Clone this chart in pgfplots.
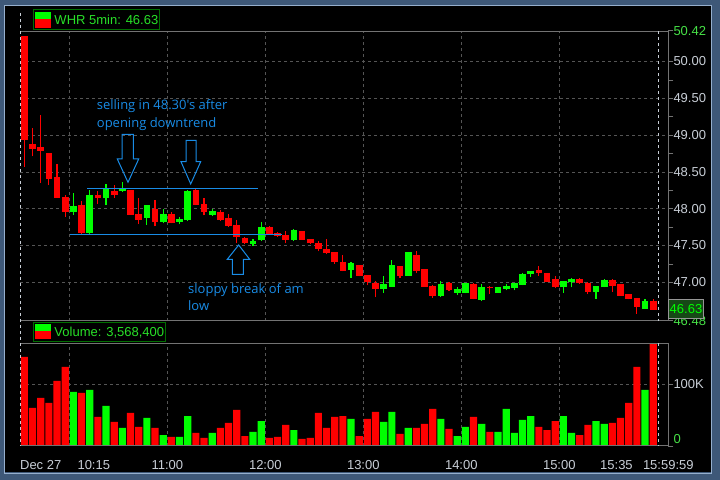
\documentclass[border=0pt]{standalone}
\usepackage{pgfplots}
\pgfplotsset{compat=1.18}
\usepackage{pgfplotstable}
\usepackage{fontspec}
\setmainfont{Liberation Sans}
\newfontfamily\annotfont{Open Sans}
\definecolor{framec}{RGB}{62,88,120}
\definecolor{framelight}{RGB}{150,175,205}
\definecolor{gridc}{RGB}{85,85,85}
\definecolor{borderc}{RGB}{115,115,115}
\definecolor{tickc}{RGB}{200,206,214}
\definecolor{greenlab}{RGB}{70,225,70}
\definecolor{legtext}{RGB}{40,225,40}
\definecolor{cred}{RGB}{255,0,0}
\definecolor{cgreen}{RGB}{0,255,0}
\definecolor{annot}{RGB}{25,140,230}
\definecolor{legborder}{RGB}{0,110,0}
\definecolor{lastbox}{RGB}{22,72,22}
\newcommand\tf{\fontsize{13bp}{15bp}\selectfont}

% red (down) candles: index, open, high, low, close, volume (K)
\pgfplotstableread{
i o h l c v
0 50.34 50.35 48.57 48.94 144.3
1 48.88 49.09 48.71 48.81 61.6
2 48.84 49.28 48.35 48.79 77.8
3 48.76 48.76 48.32 48.40 69.7
4 48.43 48.61 48.15 48.15 105.4
5 48.16 48.19 47.89 47.95 128.1
7 48.05 48.10 47.66 47.67 85.9
9 48.19 48.24 48.07 48.14 47.0
11 48.24 48.32 48.15 48.19 38.9
13 48.25 48.26 47.92 47.92 53.5
14 47.93 48.14 47.79 47.85 30.8
16 48.00 48.12 47.76 47.82 29.2
18 47.93 47.95 47.80 47.81 14.6
21 48.25 48.27 48.05 48.05 21.1
22 48.06 48.14 47.91 47.95 13.0
24 47.95 47.98 47.83 47.85 29.2
25 47.88 47.93 47.75 47.76 37.3
26 47.78 47.85 47.53 47.62 58.4
27 47.60 47.61 47.52 47.53 16.2
30 47.75 47.76 47.66 47.66 13.0
31 47.67 47.68 47.62 47.63 14.6
32 47.64 47.70 47.53 47.58 34.1
34 47.70 47.70 47.58 47.58 11.4
35 47.59 47.59 47.52 47.54 13.0
36 47.53 47.56 47.42 47.45 53.5
37 47.45 47.59 47.38 47.40 29.2
38 47.41 47.41 47.25 47.27 47.0
39 47.28 47.37 47.15 47.16 48.6
41 47.23 47.24 47.08 47.09 16.2
42 47.10 47.10 46.96 47.00 43.8
43 46.99 47.02 46.80 46.91 55.1
46 47.22 47.22 47.06 47.09 19.5
48 47.37 47.42 47.12 47.16 29.2
49 47.18 47.18 46.94 46.94 35.7
50 46.95 46.96 46.79 46.82 60.0
52 46.99 47.00 46.88 46.89 27.6
55 46.98 46.99 46.77 46.78 47.0
57 46.94 46.95 46.84 46.92 22.7
63 47.17 47.22 47.09 47.12 30.8
64 47.13 47.13 47.01 47.01 25.9
65 47.04 47.09 46.92 46.93 40.5
68 47.04 47.06 46.98 46.99 17.8
69 46.99 47.00 46.84 46.87 34.1
72 47.03 47.04 46.87 46.95 37.3
73 46.98 46.98 46.82 46.82 45.4
74 46.84 46.84 46.77 46.77 69.7
75 46.79 46.79 46.57 46.67 128.1
77 46.75 46.77 46.63 46.63 175.0
}\redtab

% green (up) candles
\pgfplotstableread{
i o h l c v
6 47.96 48.21 47.92 48.04 87.6
8 47.67 48.25 47.66 48.19 90.8
10 48.14 48.34 48.05 48.27 64.9
12 48.24 48.36 48.23 48.27 29.2
15 47.88 48.05 47.78 48.05 45.4
17 47.82 47.99 47.80 47.93 17.8
19 47.82 47.89 47.79 47.86 14.6
20 47.84 48.25 47.83 48.24 48.6
23 47.92 48.00 47.90 47.97 21.1
28 47.52 47.59 47.50 47.56 22.7
29 47.57 47.82 47.56 47.75 40.5
33 47.58 47.72 47.56 47.71 25.9
40 47.17 47.27 47.06 47.26 43.8
44 46.91 47.09 46.86 46.98 38.9
45 46.94 47.30 46.94 47.23 55.1
47 47.09 47.41 47.09 47.41 29.2
51 46.82 47.02 46.80 46.98 43.8
53 46.86 46.94 46.83 46.91 16.2
54 46.86 46.99 46.85 46.99 30.8
56 46.76 46.98 46.75 46.94 35.7
58 46.86 46.94 46.86 46.94 22.7
59 46.91 46.98 46.89 46.95 60.0
60 46.92 46.99 46.89 46.99 21.1
61 46.97 47.12 46.96 47.11 42.2
62 47.11 47.16 47.07 47.15 48.6
66 46.93 47.02 46.86 47.02 48.6
67 47.00 47.06 46.93 47.04 21.1
70 46.87 46.95 46.78 46.95 40.5
71 46.93 47.04 46.93 47.03 35.7
76 46.64 46.77 46.64 46.75 90.8
}\greentab

\begin{document}
\begin{tikzpicture}
\useasboundingbox (0,0) rectangle (720bp,480bp);
% window frame and background
\begin{scope}[x=1bp,y=-1bp,yshift=480bp]
\fill[framec] (0,0) rectangle (720,480);
\draw[framelight, line width=1bp] (4.5,5.5) rectangle (711.5,473.5);
\fill[black] (5.5,6.5) rectangle (710.5,472.5);
\end{scope}

% ---------------- price panel ----------------
\begin{axis}[
  at={(20.3bp,159.4bp)}, anchor=south west,
  scale only axis, width=648bp, height=290bp,
  xmin=-0.5, xmax=78.85, ymin=46.48, ymax=50.42,
  axis line style={draw=none},
  xtick={5.5,17.5,29.5,41.5,53.5,65.5}, xticklabels={},
  major x tick style={draw=none},
  xmajorgrids=true, ymajorgrids=true,
  major grid style={gridc, dash pattern=on 3bp off 3bp, line width=0.8bp},
  ytick={47,47.5,48,48.5,49,49.5,50},
  yticklabels={47.00,47.50,48.00,48.50,49.00,49.50,50.00},
  minor ytick={47.25,47.75,48.25,48.75,49.25,49.75},
  extra y ticks={46.48,50.42},
  extra y tick labels={\textcolor{greenlab}{46.48},\textcolor{greenlab}{50.42}},
  extra y tick style={grid=none},
  ytick pos=right, yticklabel pos=right,
  tick align=outside, major tick length=5bp, minor tick length=5bp,
  tick style={borderc, line width=0.8bp},
  yticklabel style={font=\tf, text=tickc, inner sep=0pt, anchor=west},
  clip=true,
]
% wicks
\addplot[draw=none, mark=none, forget plot,
  error bars/.cd, y dir=plus, y explicit, error mark=none,
  error bar style={draw=cred, line width=1.1bp}]
  table[x=i, y=l, y error plus expr=\thisrow{h}-\thisrow{l}, y error minus expr=0]{\redtab};
\addplot[draw=none, mark=none, forget plot,
  error bars/.cd, y dir=plus, y explicit, error mark=none,
  error bar style={draw=cgreen, line width=1.1bp}]
  table[x=i, y=l, y error plus expr=\thisrow{h}-\thisrow{l}, y error minus expr=0]{\greentab};
% bodies
\addplot[draw=none, mark=none, forget plot,
  error bars/.cd, y dir=minus, y explicit, error mark=none,
  error bar style={draw=cred, line width=6.7bp}]
  table[x=i, y=o, y error minus expr=\thisrow{o}-\thisrow{c}, y error plus expr=0]{\redtab};
\addplot[draw=none, mark=none, forget plot,
  error bars/.cd, y dir=plus, y explicit, error mark=none,
  error bar style={draw=cgreen, line width=6.7bp}]
  table[x=i, y=o, y error plus expr=\thisrow{c}-\thisrow{o}, y error minus expr=0]{\greentab};
\end{axis}

% ---------------- volume panel ----------------
\begin{axis}[
  at={(20.3bp,34bp)}, anchor=south west,
  scale only axis, width=648bp, height=102.7bp,
  xmin=-0.5, xmax=78.85, ymin=0, ymax=166.4,
  axis line style={draw=none},
  xtick={5.5,17.5,29.5,41.5,53.5,65.5}, xticklabels={},
  major x tick style={draw=none},
  xmajorgrids=true, ymajorgrids=true,
  major grid style={gridc, dash pattern=on 3bp off 3bp, line width=0.8bp},
  extra x ticks={2.0,8.5,17.5,29.5,41.5,53.5,65.5,72.5,78.85},
  extra x tick labels={Dec 27,10:15,11:00,12:00,13:00,14:00,15:00,15:35,15:59:59},
  extra x tick style={grid=none, tick style={draw=none}},
  xticklabel style={font=\tf, text=tickc, inner sep=0pt, anchor=base, yshift=-18bp},
  ytick={100}, yticklabels={100K},
  extra y ticks={0}, extra y tick labels={\textcolor{greenlab}{0}},
  extra y tick style={grid=none, yticklabel style={anchor=south west, yshift=2.5bp}},
  ytick pos=right, yticklabel pos=right,
  tick align=outside, major tick length=5bp,
  tick style={borderc, line width=0.8bp},
  yticklabel style={font=\tf, text=tickc, inner sep=0pt, anchor=west},
  ybar, bar width=7.2bp, bar shift=0pt,
  clip=true,
]
\addplot[fill=cred, draw=none] table[x=i, y=v]{\redtab};
\addplot[fill=cgreen, draw=none] table[x=i, y=v]{\greentab};
\end{axis}

% ---------------- frames, legends, annotations ----------------
\begin{scope}[x=1bp,y=-1bp,yshift=480bp]
% panel borders
\draw[borderc, line width=1bp] (20.3,31.2) -- (668.3,31.2) -- (668.3,320.6) -- (20.3,320.6);
\draw[borderc, line width=1bp] (20.3,343.3) -- (668.3,343.3) -- (668.3,446) -- (20.3,446);
% session start / end dashed lines
\draw[tickc, line width=0.8bp, dash pattern=on 3bp off 3bp] (20.7,13) -- (20.7,446);
\draw[tickc, line width=0.8bp, dash pattern=on 3bp off 3bp] (658.5,31.2) -- (658.5,320.6);
\draw[tickc, line width=0.8bp, dash pattern=on 3bp off 3bp] (658.5,343.3) -- (658.5,446);
% price legend
\draw[legborder, fill=black, line width=1bp] (33.3,10) rectangle (159.7,29.3);
\fill[cgreen] (35,12) rectangle (51,19.3);
\fill[cred] (35,19.3) rectangle (51,27.7);
\node[anchor=base west, inner sep=0pt, text=legtext, font=\tf] at (54.3,25) {WHR 5min: 46.63};
% volume legend
\draw[legborder, fill=black, line width=1bp] (33.3,322.3) rectangle (165.7,341.7);
\fill[cgreen] (35,324) rectangle (51,331.3);
\fill[cred] (35,331.3) rectangle (51,339.3);
\node[anchor=base west, inner sep=0pt, text=legtext, font=\tf] at (54.3,336.7) {Volume: 3,568,400};
% last price box
\draw[fill=lastbox, draw={rgb,255:red,150;green,150;blue,150}, line width=1bp] (668.7,299.3) rectangle (703.3,318.3);
\node[text=cgreen, inner sep=0pt, font=\tf] at (686,309) {46.63};
% annotations
\draw[annot, line width=1.2bp] (87.3,188.7) -- (257.7,188.7);
\draw[annot, line width=1.2bp] (70,234.3) -- (281.7,234.3);
\draw[annot, line width=1bp] (122,134.3) -- (133.3,134.3) -- (133.3,159) -- (138.7,159) -- (128,182.3) -- (117.3,159) -- (122,159) -- cycle;
\draw[annot, line width=1bp] (186,140.3) -- (196,140.3) -- (196,161.7) -- (200.7,161.7) -- (190.7,184) -- (181,161.7) -- (186,161.7) -- cycle;
\draw[annot, line width=1bp] (232.3,274.3) -- (243.3,274.3) -- (243.3,259.3) -- (249.7,259.3) -- (238.7,245) -- (227.3,259.3) -- (232.3,259.3) -- cycle;
\node[anchor=base west, inner sep=0pt, text=annot, font=\annotfont\fontsize{13bp}{15bp}\selectfont] at (96.7,110) {selling in 48.30's after};
\node[anchor=base west, inner sep=0pt, text=annot, font=\annotfont\fontsize{13bp}{15bp}\selectfont] at (96.7,127.3) {opening downtrend};
\node[anchor=base west, inner sep=0pt, text=annot, font=\annotfont\fontsize{13bp}{15bp}\selectfont] at (188,294) {sloppy break of am};
\node[anchor=base west, inner sep=0pt, text=annot, font=\annotfont\fontsize{13bp}{15bp}\selectfont] at (188,310.3) {low};
\end{scope}
\end{tikzpicture}
\end{document}
